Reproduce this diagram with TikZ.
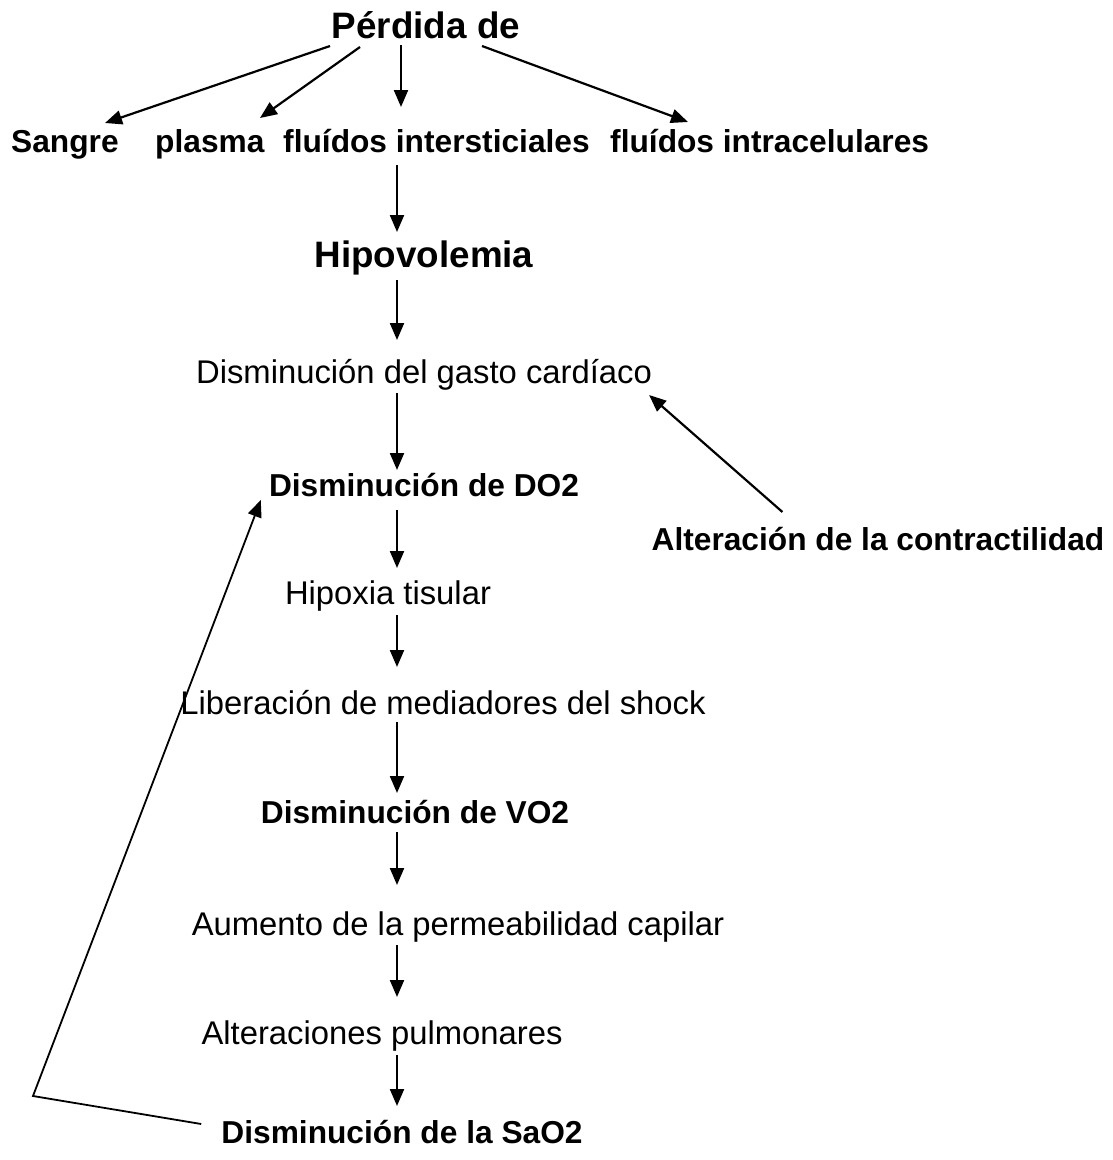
\documentclass[tikz,border=0pt]{standalone}
\usepackage{fontspec}
\setmainfont{Liberation Sans}
\usetikzlibrary{arrows.meta,calc}
\begin{document}
\begin{tikzpicture}[x=1pt,y=-1pt,
  txt/.style={inner sep=0pt,font=\fontsize{32.8}{34}\selectfont},
  btxt/.style={inner sep=0pt,font=\fontsize{31.7}{34}\selectfont\bfseries},
  big/.style={inner sep=0pt,font=\fontsize{36.8}{40}\selectfont\bfseries},
  tip/.style={-{Triangle[length=17pt,width=14pt]}},
  arr/.style={line width=2.2pt,tip},
  link/.style={line width=1.8pt}]
\useasboundingbox (0,0) rectangle (1112,1160);
\coordinate (spine) at (397,0);

% headings and chain of causes
\node[big,anchor=base] (perd) at (426,38) {Pérdida de};
\node[btxt,anchor=base west] (sangre) at (11,152) {Sangre};
\node[btxt,anchor=base west] (plasma) at (155,152) {plasma};
\node[btxt,anchor=base west] (inter) at (283,152) {fluídos intersticiales};
\node[btxt,anchor=base west] (intra) at (610,152) {fluídos intracelulares};
\node[big,anchor=base] (hipo) at (424,267) {Hipovolemia};
\node[txt,anchor=base] (gasto) at (424,383) {Disminución del gasto cardíaco};
\node[btxt,anchor=base] (do2) at (424,496) {Disminución de DO2};
\node[btxt,anchor=base] (contr) at (878,550) {Alteración de la contractilidad};
\node[txt,anchor=base] (hipox) at (388,604) {Hipoxia tisular};
\node[txt,anchor=base] (liber) at (443,714) {Liberación de mediadores del shock};
\node[btxt,anchor=base] (vo2) at (415,823) {Disminución de VO2};
\node[txt,anchor=base] (perm) at (458,935) {Aumento de la permeabilidad capilar};
\node[txt,anchor=base] (pulm) at (382,1044) {Alteraciones pulmonares};
\node[btxt,anchor=base] (sao2) at (402,1143) {Disminución de la SaO2};

% arrows from the loss to its four kinds
\draw[arr] ($(perd.base)+(-96,8)$) -- ($(sangre.base west)+(94,-29)$);
\draw[arr] ($(perd.base)+(-66,9)$) -- ($(plasma.base west)+(105,-34)$);
\draw[arr] ($(perd.base -| spine)+(4,7)$) -- ($(inter.base -| spine)+(4,-45)$);
\draw[arr] ($(perd.base)+(56,8)$) -- ($(intra.base west)+(78,-30)$);

% main vertical chain
\draw[arr] ($(inter.base -| spine)+(0,13)$) -- ($(hipo.base -| spine)+(0,-35)$);
\draw[arr] ($(hipo.base -| spine)+(0,13)$) -- ($(gasto.base -| spine)+(0,-43)$);
\draw[arr] ($(gasto.base -| spine)+(0,10)$) -- ($(do2.base -| spine)+(0,-26)$);
\draw[arr] ($(do2.base -| spine)+(0,14)$) -- ($(hipox.base -| spine)+(0,-36)$);
\draw[arr] ($(hipox.base -| spine)+(0,11)$) -- ($(liber.base -| spine)+(0,-47)$);
\draw[arr] ($(liber.base -| spine)+(0,8)$) -- ($(vo2.base -| spine)+(0,-30)$);
\draw[arr] ($(vo2.base -| spine)+(0,9)$) -- ($(perm.base -| spine)+(0,-50)$);
\draw[arr] ($(perm.base -| spine)+(0,10)$) -- ($(pulm.base -| spine)+(0,-47)$);
\draw[arr] ($(pulm.base -| spine)+(0,11)$) -- ($(sao2.base -| spine)+(0,-37)$);

% contractility feeds the cardiac output
\draw[arr] ($(contr.base west)+(131,-38)$) -- ($(gasto.base east)+(-3,12)$);

% feedback from SaO2 back to DO2
\coordinate (bend) at (33,1096);
\draw[link,tip] ($(sao2.base west)+(-20,-19)$) -- (bend) -- ($(do2.base west)+(-8,4)$);
\end{tikzpicture}
\end{document}
